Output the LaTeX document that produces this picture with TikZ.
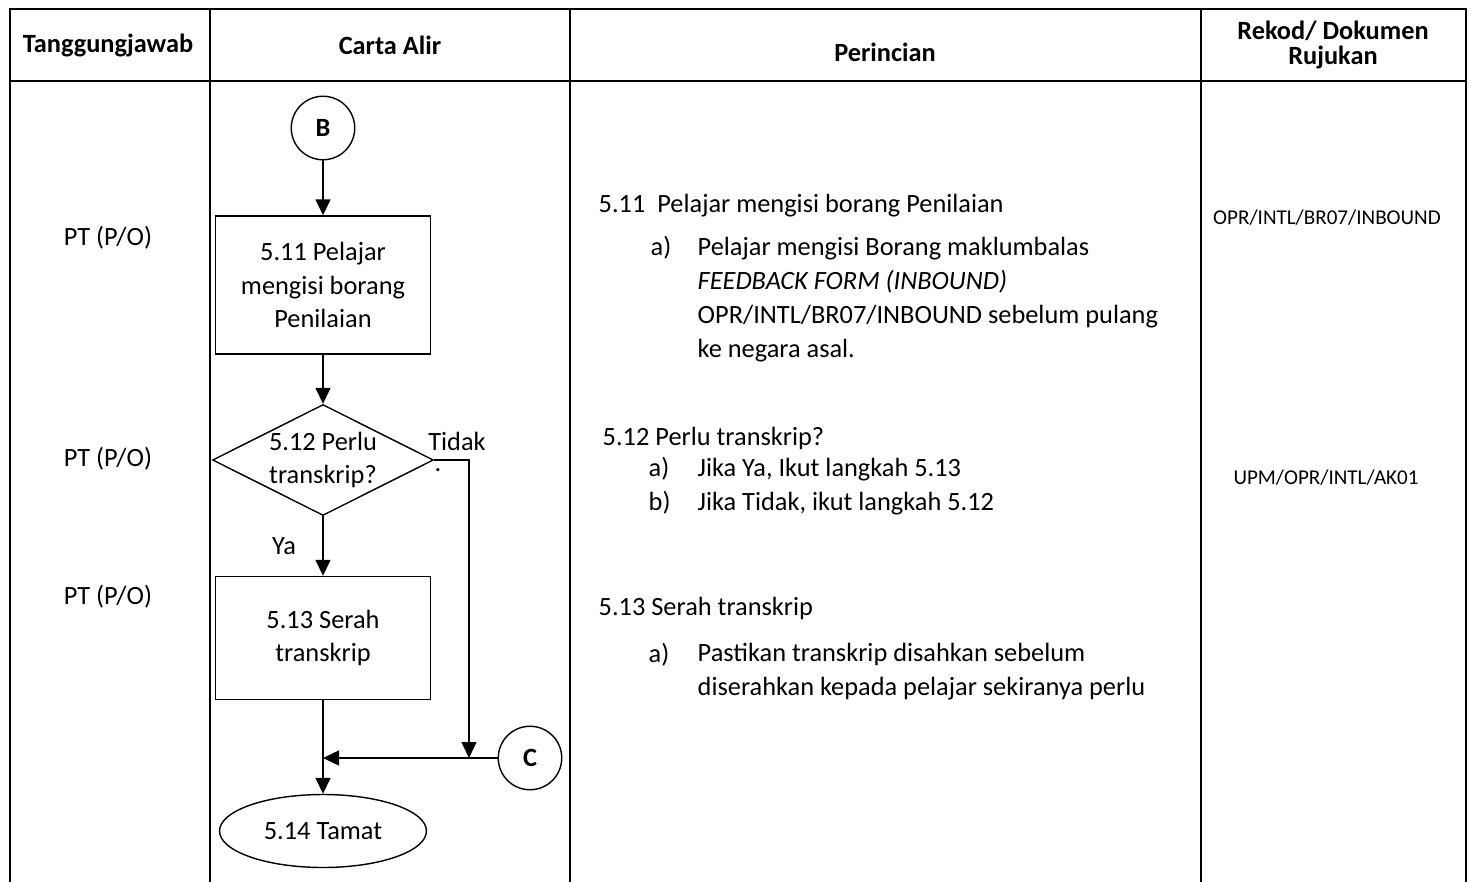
\documentclass[tikz,border=0pt]{standalone}
\usepackage{fontspec}
\setmainfont{Carlito}
\usetikzlibrary{arrows.meta,shapes.geometric}

\begin{document}
\begin{tikzpicture}[x=0.02cm,y=-0.02cm,line width=.8pt,
  head/.style={font=\fontsize{15pt}{13.7pt}\selectfont\bfseries,align=center},
  txt/.style={font=\fontsize{15pt}{19.3pt}\selectfont},
  para/.style={txt,anchor=base west,align=left,inner sep=0pt},
  proc/.style={txt,draw,align=center,minimum width=4.3cm},
  conn/.style={circle,draw,minimum size=1.27cm,inner sep=0pt,font=\fontsize{15pt}{18pt}\selectfont\bfseries},
  dec/.style={diamond,draw,aspect=2,inner sep=0pt,txt,align=center,minimum width=4.34cm,minimum height=2.22cm},
  term/.style={ellipse,draw,txt,minimum width=4.14cm,minimum height=1.46cm},
  flow/.style={-{Triangle[length=3.2mm,width=3mm]}},
  grid/.style={line width=1.3pt},
  ref/.style={font=\fontsize{12pt}{14pt}\selectfont}]
 \useasboundingbox (0,0) rectangle (1471,882);
 % table
 \draw[grid] (10,882) -- (10,9) -- (1466,9) -- (1466,882);
 \draw[grid] (10,81) -- (1466,81);
 \foreach \x in {210,570,1201}{\draw[grid] (\x,9)--(\x,882);}
 \node[head] (hresp) at (108,45) {Tanggungjawab};
 \node[head] (hflow) at (390,45) {Carta Alir};
 \node[head] (hdet) at (885,52) {Perincian};
 \node[head] (hrec) at (1333,45) {Rekod/ Dokumen\\Rujukan};
 \foreach \y/\n in {238/a,459/b,597/c}{\node[txt] (pt\n) at (108,\y) {PT (P/O)};}
 % flow chart
 \node[conn] (B) at (323,128) {B};
 \node[proc,minimum height=2.76cm] (s511) at (323,285) {5.11 Pelajar\\mengisi borang\\Penilaian};
 \node[dec] (s512) at (323,460) {5.12 Perlu\\transkrip?};
 \node[proc,minimum height=2.46cm] (s513) at (323,638) {5.13 Serah\\transkrip};
 \node[conn] (C) at (530,758) {C};
 \node[term] (s514) at (323,831) {5.14 Tamat};
 \coordinate (tidak) at (469,758);
 \coordinate (join) at (323,758);
 \draw[flow] (B) -- (s511);
 \draw[flow] (s511) -- (s512);
 \draw[flow] (s512) -- (s513);
 \draw[flow] (s512.east) -| (tidak);
 \draw[flow] (s513) -- (s514);
 \draw[flow] (C) -- (join);
 \node[txt] (ya) at (284,546) {Ya};
 \node[txt,inner sep=1pt] (tdk) at (457,441) {Tidak};
 \node[txt,anchor=base,inner sep=0pt] (dot) at (438,471) {.};
 % details
 \node[para] (d511) at (598,213) {5.11\ \ Pelajar mengisi borang Penilaian};
 \node[para] (d511a) at (650,255) {a)};
 \node[para] (d511t) at (697,357) {Pelajar mengisi Borang maklumbalas\\\textit{FEEDBACK FORM (INBOUND)}\\OPR/INTL/BR07/INBOUND sebelum pulang\\ke negara asal.};
 \node[para] (d512) at (602,445) {5.12 Perlu transkrip?};
 \node[para] (d512l) at (648,510) {a)\\b)};
 \node[para] (d512t) at (697,510) {Jika Ya, Ikut langkah 5.13\\Jika Tidak, ikut langkah 5.12};
 \node[para] (d513) at (598,615) {5.13 Serah transkrip};
 \node[para] (d513a) at (648,662) {a)};
 \node[para] (d513t) at (697,695) {Pastikan transkrip disahkan sebelum\\diserahkan kepada pelajar sekiranya perlu};
 % records
 \node[ref] (r511) at (1327,218) {OPR/INTL/BR07/INBOUND};
 \node[ref] (r512) at (1326,478) {UPM/OPR/INTL/AK01};
\end{tikzpicture}
\end{document}
